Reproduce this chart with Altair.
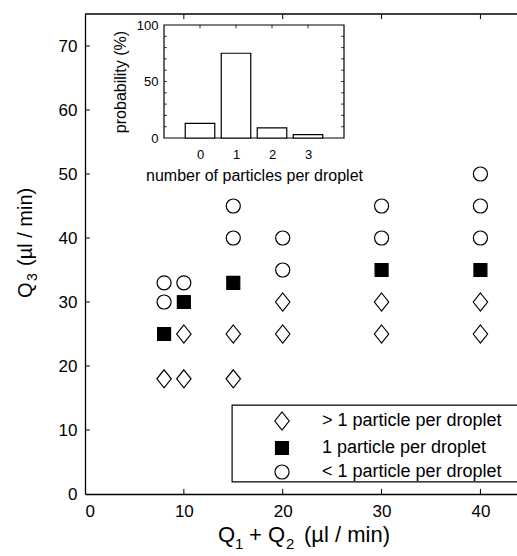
import altair as alt
import pandas as pd

# ---------------- data ----------------
q12 = [8, 8, 8, 8,
       10, 10, 10, 10,
       15, 15, 15, 15, 15,
       20, 20, 20, 20,
       30, 30, 30, 30, 30,
       40, 40, 40, 40, 40, 40]
q3 = [18, 25, 30, 33,
      18, 25, 30, 33,
      18, 25, 33, 40, 45,
      25, 30, 35, 40,
      25, 30, 35, 40, 45,
      25, 30, 35, 40, 45, 50]
MORE = "> 1 particle per droplet"
ONE = "1 particle per droplet"
LESS = "< 1 particle per droplet"
regime = [MORE, ONE, LESS, LESS,
          MORE, MORE, ONE, LESS,
          MORE, MORE, ONE, LESS, LESS,
          MORE, MORE, LESS, LESS,
          MORE, MORE, ONE, LESS, LESS,
          MORE, MORE, ONE, LESS, LESS, LESS]
regime_order = [MORE, ONE, LESS]

particles = [0, 1, 2, 3]
probability = [13, 75, 9, 3]

x_label_values = [0, 10, 20, 30, 40]
x_tick_values = [10, 20, 30, 40]
y_label_values = [0, 10, 20, 30, 40, 50, 60, 70]
y_tick_values = [10, 20, 30, 40, 50, 60, 70]
inset_y_labels = [0, 50, 100]
inset_minor = [10, 20, 30, 40, 50, 60, 70, 80, 90]

# ---------------- styling ----------------
W, H = 432, 480
FONT = "Liberation Sans"
DIAMOND = "M0,-1L0.8,0L0,1L-0.8,0Z"
SQUARE = "M-0.72,-0.72L0.72,-0.72L0.72,0.72L-0.72,0.72Z"
CIRCLE = "M0.78,0A0.78,0.78,0,1,1,-0.78,0A0.78,0.78,0,1,1,0.78,0Z"

df = pd.DataFrame({"q12": q12, "q3": q3, "regime": regime})
xs = alt.Scale(domain=[0, 43.7], nice=False, zero=False)
ys = alt.Scale(domain=[0, 75], nice=False, zero=False)

legend = alt.Legend(
    title=None, orient="none", legendX=147, legendY=391,
    padding=6, symbolOffset=34, labelOffset=30, labelFontSize=18, labelFont=FONT,
    labelColor="black", rowPadding=5, symbolSize=324,
    symbolStrokeColor="black", symbolStrokeWidth=1.2, labelLimit=400,
)

points = alt.Chart(df).mark_point(
    filled=True, size=324, strokeWidth=1.2, opacity=1, fillOpacity=1
).encode(
    x=alt.X("q12:Q", scale=xs, axis=alt.Axis(
        values=x_label_values, ticks=False, grid=False, domainColor="black",
        domainWidth=1.3, labelFontSize=17, labelFont=FONT, labelColor="black",
        labelPadding=9, title=None)),
    y=alt.Y("q3:Q", scale=ys, axis=alt.Axis(
        values=y_label_values, ticks=False, grid=False, domainColor="black",
        domainWidth=1.3, labelFontSize=17, labelFont=FONT, labelColor="black",
        labelPadding=8, title=None)),
    shape=alt.Shape("regime:N", scale=alt.Scale(domain=regime_order,
                    range=[DIAMOND, SQUARE, CIRCLE]), legend=legend),
    fill=alt.Fill("regime:N", scale=alt.Scale(domain=regime_order,
                  range=["white", "black", "white"]), legend=legend),
    stroke=alt.Stroke("regime:N", scale=alt.Scale(domain=regime_order,
                      range=["black", "black", "black"]), legend=legend),
)

one = pd.DataFrame({"a": [0]})
top_line = alt.Chart(one).mark_rule(color="black", strokeWidth=1.3).encode(
    x=alt.datum(0, scale=xs), x2=alt.datum(43.7), y=alt.datum(75, scale=ys))

# legend frame (runs off the right edge like the original)
legend_box = alt.Chart(one).mark_rect(
    fill="white", stroke="black", strokeWidth=1.2
).encode(x=alt.datum(14.88, scale=xs), x2=alt.datum(44.5),
         y=alt.datum(13.9, scale=ys), y2=alt.datum(1.88))

xt = pd.DataFrame({"v": x_tick_values})
yt = pd.DataFrame({"v": y_tick_values})
bottom_ticks = alt.Chart(xt).mark_rule(color="black", strokeWidth=1).encode(
    x=alt.X("v:Q", scale=xs), y=alt.datum(0, scale=ys), y2=alt.datum(0.8))
top_ticks = alt.Chart(xt).mark_rule(color="black", strokeWidth=1).encode(
    x=alt.X("v:Q", scale=xs), y=alt.datum(75, scale=ys), y2=alt.datum(74.2))
left_ticks = alt.Chart(yt).mark_rule(color="black", strokeWidth=1).encode(
    y=alt.Y("v:Q", scale=ys), x=alt.datum(0, scale=xs), x2=alt.datum(0.5))


def label(txt, x, y, size, angle=0):
    return alt.Chart(one).mark_text(
        text=txt, font=FONT, fontSize=size, color="black", align="left",
        baseline="alphabetic", angle=angle
    ).encode(x=alt.value(x), y=alt.value(y))


# axis titles with real subscripts
x_title = [
    label("Q", 133, 528, 22), label("1", 150, 535, 15),
    label("+", 164, 528, 22), label("Q", 183, 528, 22),
    label("2", 201, 535, 15), label("(µl / min)", 219, 528, 22),
]
y_title = [
    label("Q", -53, 284, 20, 270), label("3", -48, 267, 14, 270),
    label("(µl / min)", -53, 252, 20, 270),
]

main = alt.layer(legend_box, top_line, bottom_ticks, top_ticks, left_ticks,
                 points, *x_title, *y_title)

# ---------------- inset ----------------
ixs = alt.Scale(domain=[-1, 4], range=[79, 259], nice=False, zero=False)
iys = alt.Scale(domain=[0, 100], range=[124, 11], nice=False, zero=False)

frame = alt.Chart(one).mark_rect(
    fill="white", stroke="black", strokeWidth=1.2
).encode(
    x=alt.X("x0:Q", scale=ixs, axis=alt.Axis(
        orient="bottom", offset=-356, values=particles, format="d", ticks=False,
        domain=False, grid=False, labelFontSize=13, labelFont=FONT,
        labelColor="black", labelPadding=10,
        title="number of particles per droplet", titleFontSize=16,
        titleFont=FONT, titleFontWeight="normal", titleColor="black",
        titlePadding=6, zindex=2)),
    x2="x1:Q",
    y=alt.Y("y0:Q", scale=iys, axis=alt.Axis(
        orient="left", offset=-79, values=inset_y_labels, format="d", ticks=False,
        domain=False, grid=False, labelFontSize=13, labelFont=FONT,
        labelColor="black", labelPadding=6, title="probability (%)",
        titleFontSize=16, titleFont=FONT, titleFontWeight="normal",
        titleColor="black", titlePadding=8, zindex=2)),
    y2="y1:Q",
).transform_calculate(x0="-1", x1="4", y0="0", y1="100")

bars = alt.Chart(pd.DataFrame({"n": particles, "p": probability})).mark_bar(
    fill="white", stroke="black", strokeWidth=1.2
).encode(
    x=alt.X("b0:Q", scale=ixs), x2="b1:Q",
    y=alt.Y("p:Q", scale=iys), y2=alt.datum(0)
).transform_calculate(b0="datum.n - 0.41", b1="datum.n + 0.41")

im = pd.DataFrame({"v": inset_minor})
ip = pd.DataFrame({"v": particles})
in_left = alt.Chart(im).mark_rule(color="black", strokeWidth=0.8).encode(
    y=alt.Y("v:Q", scale=iys), x=alt.datum(-1, scale=ixs), x2=alt.datum(-0.92))
in_right = alt.Chart(im).mark_rule(color="black", strokeWidth=0.8).encode(
    y=alt.Y("v:Q", scale=iys), x=alt.datum(4, scale=ixs), x2=alt.datum(3.92))
in_top = alt.Chart(ip).mark_rule(color="black", strokeWidth=0.8).encode(
    x=alt.X("v:Q", scale=ixs), y=alt.datum(100, scale=iys), y2=alt.datum(97))

inset = alt.layer(frame, in_left, in_right, in_top, bars)

chart = alt.layer(main, inset).resolve_scale(
    x="independent", y="independent"
).properties(
    width=W, height=H, autosize="none",
    padding={"left": 85, "top": 14, "right": 0, "bottom": 62},
).configure(font=FONT).configure_view(stroke=None)

chart.save("out.html", embed_options={"renderer": "svg", "actions": False})
